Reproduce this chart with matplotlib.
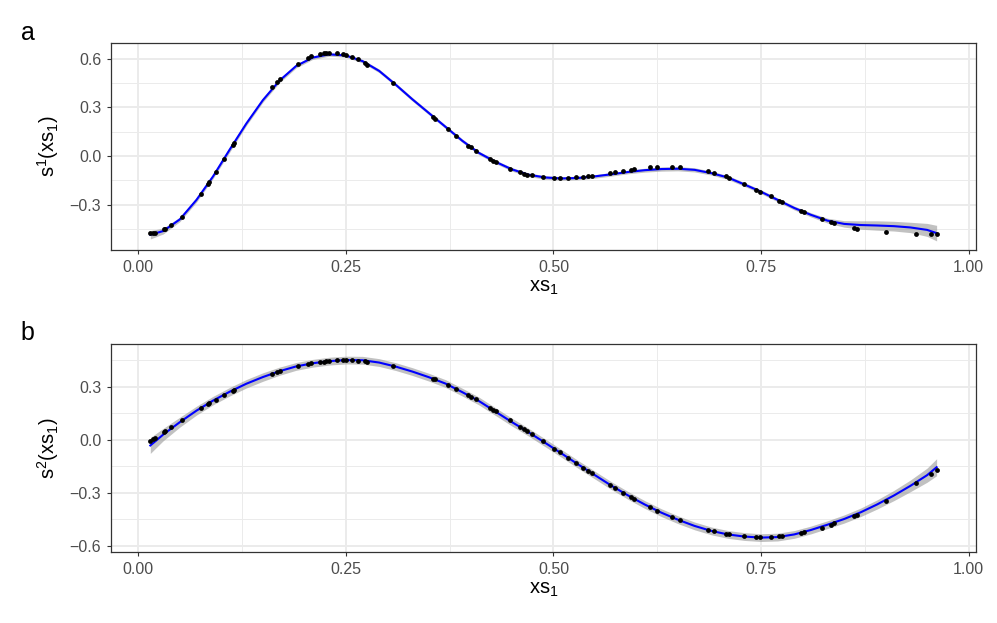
import numpy as np
import matplotlib
matplotlib.use("Agg")
import matplotlib.pyplot as plt

plt.rcParams['font.family'] = ['Liberation Sans', 'DejaVu Sans']
plt.rcParams['mathtext.fontset'] = 'custom'
plt.rcParams['mathtext.rm'] = 'Liberation Sans'
plt.rcParams['mathtext.it'] = 'Liberation Sans'

# observed points (same xs1 for both panels)
xs1 = [0.0144, 0.0172, 0.0205, 0.0305, 0.0325, 0.0397, 0.0521, 0.0758, 0.0838, 0.0854,
       0.0934, 0.1027, 0.1135, 0.1147, 0.1613, 0.1669, 0.1700, 0.1917, 0.2042, 0.2078,
       0.2190, 0.2230, 0.2262, 0.2298, 0.2398, 0.2459, 0.2499, 0.2575, 0.2643, 0.2724,
       0.2752, 0.3072, 0.3554, 0.3578, 0.3734, 0.3823, 0.3975, 0.4004, 0.4064, 0.4236,
       0.4276, 0.4308, 0.4477, 0.4597, 0.4645, 0.4685, 0.4737, 0.4877, 0.5006, 0.5078,
       0.5178, 0.5267, 0.5351, 0.5412, 0.5460, 0.5680, 0.5740, 0.5840, 0.5929, 0.5969,
       0.6161, 0.6242, 0.6422, 0.6522, 0.6856, 0.6935, 0.7072, 0.7116, 0.7296, 0.7445,
       0.7485, 0.7617, 0.7714, 0.7753, 0.7978, 0.8018, 0.8231, 0.8339, 0.8379, 0.8620,
       0.8656, 0.9001, 0.9370, 0.9551, 0.9615]

s1_obs = [-0.477, -0.473, -0.473, -0.452, -0.448, -0.427, -0.374, -0.232, -0.173, -0.160,
          -0.099, -0.018, 0.070, 0.078, 0.425, 0.454, 0.473, 0.569, 0.606, 0.614,
          0.631, 0.633, 0.635, 0.635, 0.633, 0.629, 0.625, 0.612, 0.598, 0.571,
          0.563, 0.452, 0.242, 0.228, 0.165, 0.123, 0.064, 0.054, 0.033, -0.018,
          -0.031, -0.039, -0.078, -0.101, -0.109, -0.115, -0.119, -0.129, -0.134, -0.136,
          -0.136, -0.131, -0.129, -0.125, -0.123, -0.107, -0.101, -0.092, -0.084, -0.082,
          -0.070, -0.068, -0.066, -0.068, -0.094, -0.105, -0.125, -0.134, -0.173, -0.210,
          -0.220, -0.249, -0.275, -0.286, -0.337, -0.345, -0.388, -0.409, -0.415, -0.446,
          -0.450, -0.471, -0.479, -0.479, -0.481]

s2_obs = [-0.006, 0.004, 0.011, 0.045, 0.049, 0.070, 0.110, 0.178, 0.202, 0.208,
          0.225, 0.251, 0.276, 0.279, 0.374, 0.383, 0.389, 0.417, 0.428, 0.432,
          0.440, 0.442, 0.444, 0.445, 0.449, 0.449, 0.449, 0.449, 0.447, 0.444,
          0.442, 0.419, 0.345, 0.342, 0.310, 0.289, 0.251, 0.243, 0.229, 0.181,
          0.168, 0.162, 0.110, 0.074, 0.059, 0.048, 0.032, -0.009, -0.051, -0.070,
          -0.105, -0.130, -0.158, -0.175, -0.190, -0.256, -0.273, -0.300, -0.324, -0.334,
          -0.381, -0.400, -0.437, -0.456, -0.509, -0.518, -0.530, -0.534, -0.545, -0.549,
          -0.549, -0.549, -0.545, -0.543, -0.526, -0.522, -0.498, -0.483, -0.473, -0.430,
          -0.424, -0.345, -0.243, -0.192, -0.170]

# fitted smooth + standard error band
x_fit = [0.0144, 0.03, 0.05, 0.07, 0.09, 0.11, 0.13, 0.15, 0.17, 0.19, 0.21, 0.23, 0.25,
         0.27, 0.29, 0.31, 0.33, 0.35, 0.37, 0.39, 0.41, 0.43, 0.45, 0.47, 0.49, 0.51,
         0.53, 0.55, 0.57, 0.59, 0.61, 0.63, 0.65, 0.67, 0.69, 0.71, 0.73, 0.75, 0.77,
         0.79, 0.81, 0.83, 0.85, 0.87, 0.89, 0.91, 0.93, 0.95, 0.9615]

s1_fit = [-0.485, -0.462, -0.390, -0.270, -0.125, 0.040, 0.200, 0.345, 0.465, 0.555,
          0.607, 0.627, 0.620, 0.585, 0.525, 0.440, 0.350, 0.265, 0.180, 0.095,
          0.020, -0.035, -0.082, -0.115, -0.132, -0.138, -0.135, -0.125, -0.112, -0.098,
          -0.087, -0.080, -0.078, -0.085, -0.105, -0.132, -0.175, -0.220, -0.270, -0.320,
          -0.362, -0.398, -0.418, -0.425, -0.428, -0.432, -0.440, -0.455, -0.475]
s1_se = [0.026, 0.018, 0.014, 0.014, 0.014, 0.016, 0.013, 0.013, 0.013, 0.012,
         0.011, 0.011, 0.011, 0.011, 0.011, 0.011, 0.011, 0.011, 0.011, 0.011,
         0.011, 0.011, 0.011, 0.011, 0.011, 0.011, 0.011, 0.011, 0.011, 0.011,
         0.012, 0.013, 0.013, 0.013, 0.012, 0.012, 0.012, 0.012, 0.012, 0.012,
         0.013, 0.015, 0.020, 0.026, 0.029, 0.030, 0.032, 0.040, 0.048]

s2_fit = [-0.032, 0.030, 0.100, 0.165, 0.222, 0.272, 0.317, 0.355, 0.388, 0.415,
          0.433, 0.445, 0.451, 0.450, 0.437, 0.414, 0.386, 0.354, 0.318, 0.270,
          0.220, 0.160, 0.100, 0.043, -0.017, -0.078, -0.140, -0.200, -0.260, -0.315,
          -0.366, -0.412, -0.452, -0.487, -0.515, -0.535, -0.547, -0.553, -0.550, -0.535,
          -0.510, -0.480, -0.448, -0.410, -0.365, -0.315, -0.260, -0.200, -0.155]
s2_se = [0.045, 0.035, 0.028, 0.025, 0.024, 0.024, 0.024, 0.024, 0.023, 0.022,
         0.022, 0.022, 0.022, 0.022, 0.022, 0.022, 0.022, 0.022, 0.022, 0.022,
         0.022, 0.022, 0.022, 0.022, 0.022, 0.022, 0.022, 0.022, 0.022, 0.022,
         0.022, 0.022, 0.022, 0.022, 0.022, 0.022, 0.022, 0.022, 0.022, 0.022,
         0.022, 0.022, 0.023, 0.024, 0.026, 0.029, 0.033, 0.040, 0.048]

x_ticks = [0.0, 0.25, 0.5, 0.75, 1.0]
x_labels = ["0.00", "0.25", "0.50", "0.75", "1.00"]
y_ticks_a = [-0.3, 0.0, 0.3, 0.6]
y_labels_a = ["\u22120.3", "0.0", "0.3", "0.6"]
y_ticks_b = [-0.6, -0.3, 0.0, 0.3]
y_labels_b = ["\u22120.6", "\u22120.3", "0.0", "0.3"]

fig = plt.figure(figsize=(9.97, 6.23), dpi=100)
ax_a = fig.add_axes([0.1113, 0.5987, 0.8677, 0.3323])
ax_b = fig.add_axes([0.1113, 0.1135, 0.8677, 0.3338])

panels = [
    (ax_a, s1_obs, s1_fit, s1_se, y_ticks_a, y_labels_a, (-0.579, 0.697),
     [-0.45, -0.15, 0.15, 0.45], r'$\mathregular{s^1(xs_1)}$', 'a'),
    (ax_b, s2_obs, s2_fit, s2_se, y_ticks_b, y_labels_b, (-0.636, 0.54),
     [-0.45, -0.15, 0.15, 0.45], r'$\mathregular{s^2(xs_1)}$', 'b'),
]

for ax, obs, fit, se, yt, yl, ylim, yminor, ylab, tag in panels:
    fit = np.array(fit)
    se = np.array(se)
    ax.fill_between(x_fit, fit - se, fit + se, color='#999999', alpha=0.6,
                    linewidth=0, zorder=2)
    ax.plot(x_fit, fit, color='blue', lw=1.5, zorder=3)
    ax.scatter(xs1, obs, s=12, color='black', zorder=4, linewidths=0)

    ax.set_xlim(-0.033, 1.009)
    ax.set_ylim(*ylim)
    ax.set_xticks(x_ticks)
    ax.set_xticklabels(x_labels)
    ax.set_yticks(yt)
    ax.set_yticklabels(yl)
    ax.set_xticks([0.125, 0.375, 0.625, 0.875], minor=True)
    ax.set_yticks(yminor, minor=True)
    ax.grid(True, which='major', color='#EBEBEB', lw=1.4, zorder=0)
    ax.grid(True, which='minor', color='#EBEBEB', lw=0.7, zorder=0)
    ax.set_axisbelow(True)
    ax.tick_params(which='major', length=3, width=0.8, color='#333333',
                   labelsize=11.5, labelcolor='#4D4D4D', pad=4)
    ax.tick_params(which='minor', length=0)
    for sp in ax.spines.values():
        sp.set_color('#333333')
        sp.set_linewidth(0.9)
    ax.set_xlabel(r'$\mathregular{xs_1}$', fontsize=14.5, labelpad=2)
    ax.set_ylabel(ylab, fontsize=14.5, labelpad=6)

fig.text(0.021, 0.947, 'a', fontsize=18, va='center', ha='left')
fig.text(0.021, 0.465, 'b', fontsize=18, va='center', ha='left')

fig.savefig('out.png', dpi=100)
